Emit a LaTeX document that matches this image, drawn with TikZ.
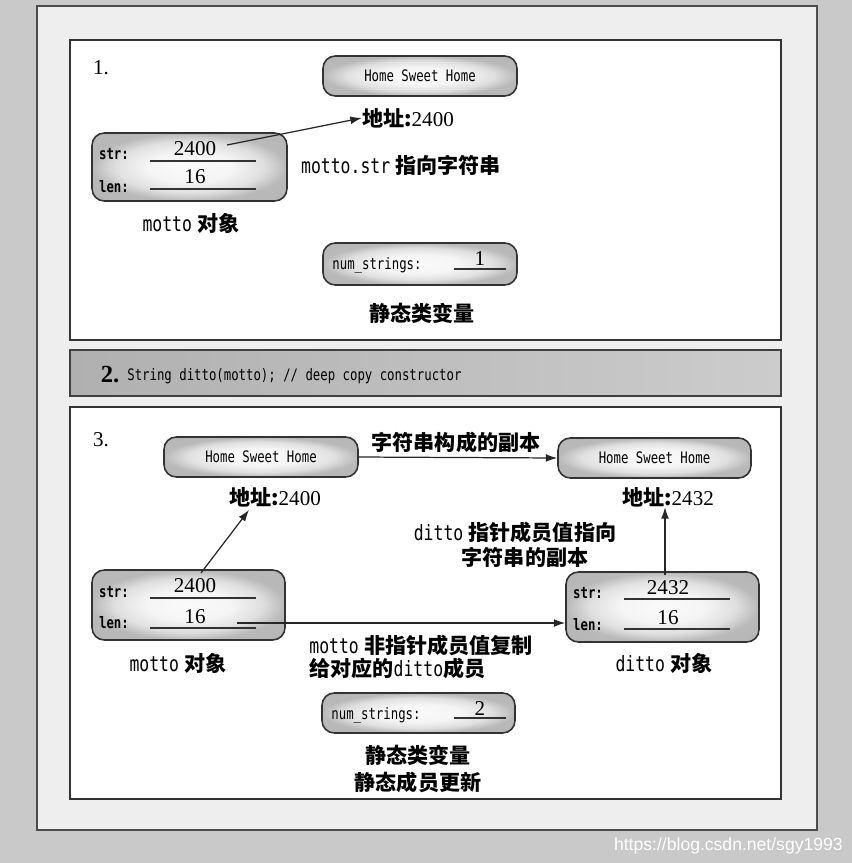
\documentclass[tikz,border=0pt]{standalone}
\usepackage{fontspec}
\setmainfont{Liberation Serif}
\newfontfamily\cjk{Noto Sans CJK SC}
\newfontfamily\codef{DejaVu Sans Mono}[FakeStretch=0.78]
\newfontfamily\wmfont{Liberation Sans}
\usetikzlibrary{arrows.meta}
\newcommand\mycj[1]{{\cjk\bfseries #1}}
\newcommand\mycd[1]{{\codef #1}}
\pgfdeclareradialshading{boxglow}{\pgfpoint{0bp}{0bp}}{color(0bp)=(gray!4); color(11bp)=(gray!8); color(19bp)=(gray!25); color(25bp)=(gray!55); color(50bp)=(gray!60)}
\tikzset{
  memb/.style={draw=black!80, line width=0.9pt, rounded corners=7pt, shade, shading=boxglow,
    inner sep=0pt, font=\fontsize{9}{10}\selectfont\codef},
  field/.style={draw=black!80, line width=1pt},
  arr/.style={-{Latex[length=6.5pt,width=4.5pt]}, line width=0.7pt, draw=black!85},
  lab/.style={font=\fontsize{9}{10}\selectfont\codef\bfseries, inner sep=0pt},
  val/.style={font=\fontsize{12}{13}\selectfont, inner sep=0pt},
  txt/.style={font=\fontsize{12}{13}\selectfont, inner sep=0pt},
  cjkt/.style={font=\fontsize{12}{13}\selectfont\cjk\bfseries, inner sep=0pt},
  panel/.style={fill=white, draw=black!80, line width=0.9pt},
}
\begin{document}
\begin{tikzpicture}[x=0.02cm, y=-0.02cm]
\useasboundingbox (0,0) rectangle (852,863);
% background and frame
\fill[gray!42] (0,0) rectangle (852,863);
\draw[fill=gray!13, draw=black!70, line width=1.2pt] (37,6) rectangle (817,830);
\draw[panel] (70,40) rectangle (781,340);
\draw[left color=gray!62, right color=gray!40, draw=black!75, line width=0.9pt] (70,350) rectangle (781,396);
\draw[panel] (70,407) rectangle (781,799);

% ---------- panel 1 ----------
\node[val] (one) at (101,68) {1.};
\node[memb, minimum width=3.88cm, minimum height=0.8cm] (hsh1) at (420,76) {Home Sweet Home};
\node[txt] (addr1) at (408,118) {\mycj{地址:}2400};
\node[memb, minimum width=3.9cm, minimum height=1.36cm] (m1) at (189.5,167) {};
\node[lab] (m1s) at (114,154) {str:};
\node[lab] (m1l) at (114,187) {len:};
\draw[field] (150,161) -- (256,161);
\draw[field] (150,189) -- (256,189);
\node[val] (m1sv) at (195,149) {2400};
\node[val] (m1lv) at (195,177) {16};
\coordinate (a1s) at (227,145);
\draw[arr] (a1s) -- (addr1.west);
\node[txt] (cap1) at (401,165) {\mycd{motto.str} \mycj{指向字符串}};
\node[txt] (mlab1) at (191,223) {\mycd{motto} \mycj{对象}};
\node[memb, minimum width=3.88cm, minimum height=0.84cm] (ns1) at (420,264) {};
\node[lab, font=\fontsize{9}{10}\selectfont\codef] (ns1t) at (377,265) {num\_strings:};
\draw[field] (454,269) -- (506,269);
\node[val] (ns1v) at (480,259) {1};
\node[cjkt] (st1) at (422,313) {静态类变量};

% ---------- bar 2 ----------
\node[val, font=\fontsize{14}{15}\selectfont\bfseries] (two) at (110,375) {2.};
\node[anchor=west, inner sep=0pt, font=\fontsize{9}{10}\selectfont\codef] (code2) at (127,376) {String ditto(motto); // deep copy constructor};

% ---------- panel 3 ----------
\node[val] (three) at (101,440) {3.};
\node[memb, minimum width=3.88cm, minimum height=0.8cm] (h3l) at (261,457) {Home Sweet Home};
\node[memb, minimum width=3.86cm, minimum height=0.8cm] (h3r) at (654.5,458) {Home Sweet Home};
\draw[arr] (h3l.east) -- (h3r.west);
\node[cjkt] (copy) at (456,442) {字符串构成的副本};
\node[txt] (addr3l) at (275,497) {\mycj{地址:}2400};
\node[txt] (addr3r) at (668,497) {\mycj{地址:}2432};
\node[txt] (dp1) at (515,532) {\mycd{ditto} \mycj{指针成员值指向}};
\node[cjkt] (dp2) at (525,557) {字符串的副本};

\node[memb, minimum width=3.86cm, minimum height=1.4cm] (m3) at (188.5,605) {};
\node[lab] (m3s) at (114,592) {str:};
\node[lab] (m3l) at (114,623) {len:};
\draw[field] (150,598) -- (256,598);
\draw[field] (150,628) -- (256,628);
\node[val] (m3sv) at (195,586) {2400};
\node[val] (m3lv) at (195,617) {16};

\node[memb, minimum width=3.86cm, minimum height=1.4cm] (d3) at (662.5,607) {};
\node[lab] (d3s) at (588,593) {str:};
\node[lab] (d3l) at (588,625) {len:};
\draw[field] (624,599) -- (730,599);
\draw[field] (624,629) -- (730,629);
\node[val] (d3sv) at (668,588) {2432};
\node[val] (d3lv) at (668,618) {16};

\coordinate (a3s) at (201,573);
\coordinate (a3e) at (249,510);
\draw[arr] (a3s) -- (a3e);
\coordinate (a3l) at (237,623);
\draw[arr] (a3l) -- (a3l -| d3.west);
\coordinate (a3v) at (665,575);
\draw[arr] (a3v) -- (a3v |- addr3r.south);

\node[txt, anchor=west] (cp1) at (309,645) {\mycd{motto} \mycj{非指针成员值复制}};
\node[txt, anchor=west] (cp2) at (309,668) {\mycj{给对应的}\mycd{ditto}\mycj{成员}};
\node[txt] (mlab3) at (178,663) {\mycd{motto} \mycj{对象}};
\node[txt] (dlab3) at (664,663) {\mycd{ditto} \mycj{对象}};

\node[memb, minimum width=3.86cm, minimum height=0.8cm] (ns3) at (418.5,713) {};
\node[lab, font=\fontsize{9}{10}\selectfont\codef] (ns3t) at (376,715) {num\_strings:};
\draw[field] (454,718) -- (506,718);
\node[val] (ns3v) at (480,709) {2};
\node[cjkt] (st3a) at (418,755) {静态类变量};
\node[cjkt] (st3b) at (418,782) {静态成员更新};

% watermark
\node[anchor=east, inner sep=0pt, text=white, font=\fontsize{10}{12}\selectfont\wmfont] (wm) at (843,846) {https://blog.csdn.net/sgy1993};
\end{tikzpicture}
\end{document}
